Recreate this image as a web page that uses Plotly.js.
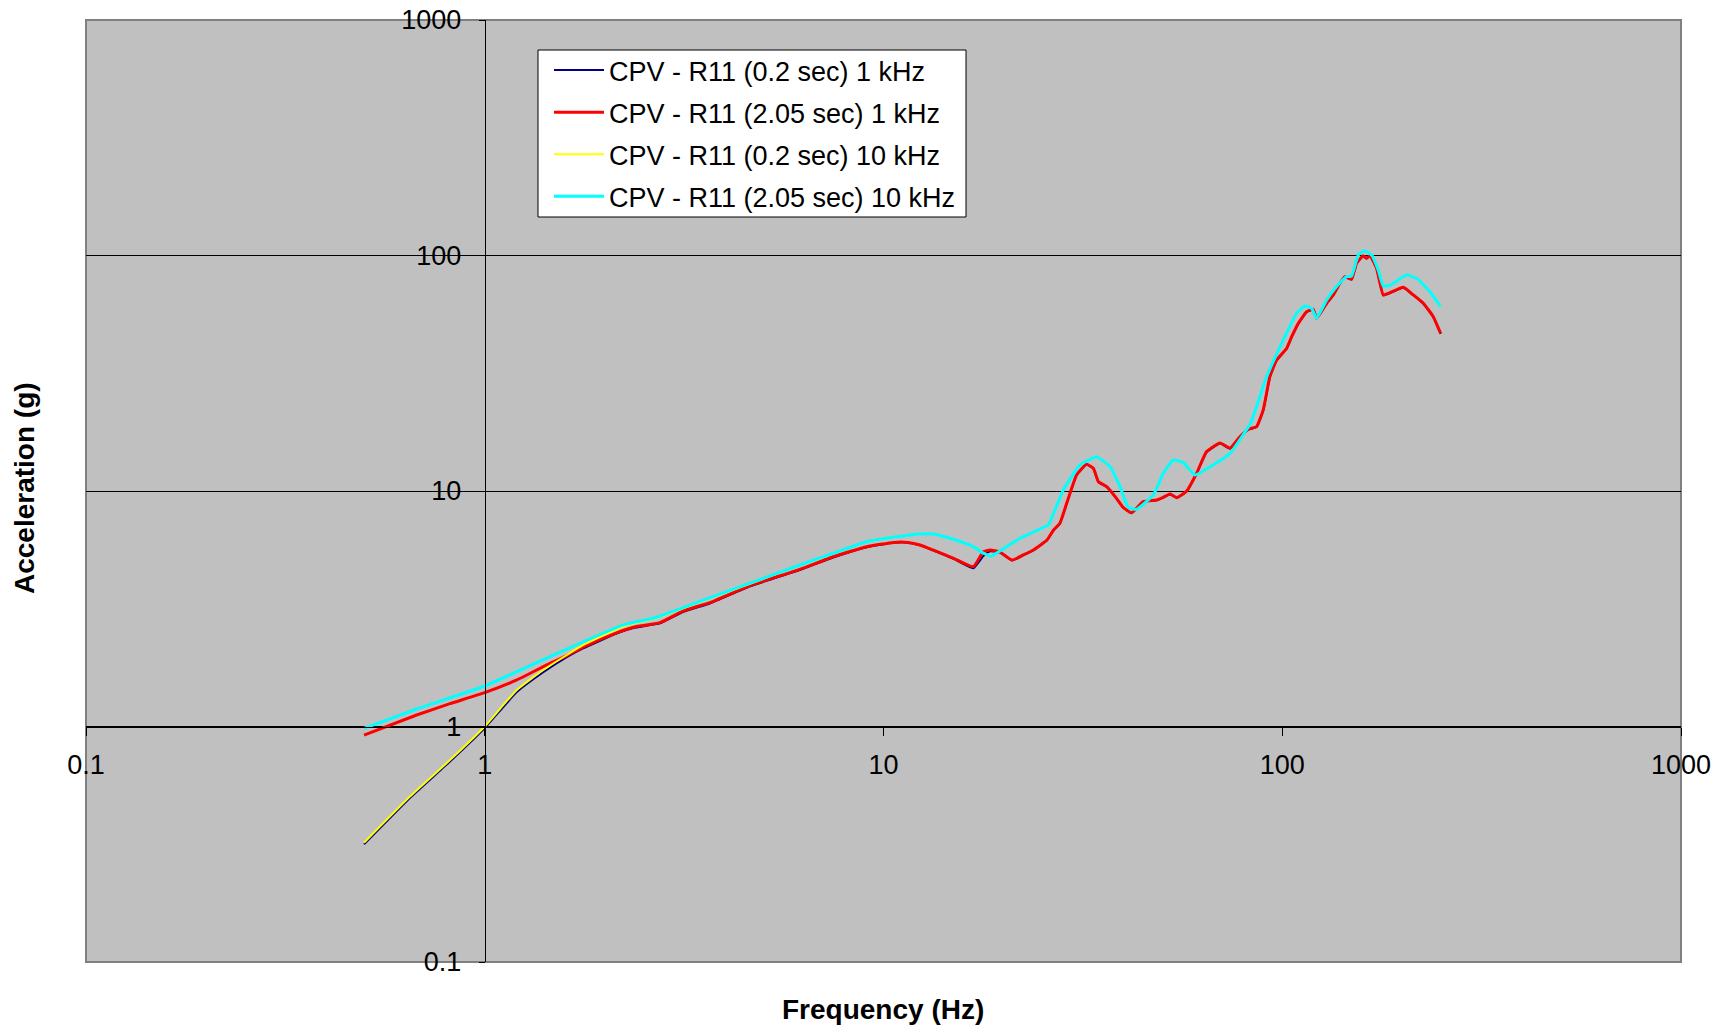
<!DOCTYPE html>
<html>
<head>
<meta charset="utf-8">
<script src="https://cdn.plot.ly/plotly-3.0.1.min.js"></script>
<style>
  html, body { margin: 0; padding: 0; background: #ffffff; }
  #chart { width: 1728px; height: 1029px; }
</style>
</head>
<body>
<div id="chart"></div>
<script>
// Shock response spectrum, CPV - R11, acceleration (g) vs frequency (Hz)

const seriesNames = [
  'CPV - R11 (0.2 sec) 1 kHz',
  'CPV - R11 (2.05 sec) 1 kHz',
  'CPV - R11 (0.2 sec) 10 kHz',
  'CPV - R11 (2.05 sec) 10 kHz'
];
const seriesColors = ['#000080', '#FF0000', '#FFFF00', '#00FFFF'];

// 0.2 sec window, 1 kHz sampling
const freqBlue = [0.498, 0.649, 0.818, 1.0, 1.203, 1.402, 1.606, 1.77, 2.14, 2.36, 2.75, 3.15, 3.67, 4.63, 6.17, 7.48, 9.08, 10.6, 11.5, 12.35, 13.3, 15.0, 16.8, 17.8, 18.5, 19.6, 21.0, 22.4, 23.75, 25.7, 26.7, 27.7, 28.8, 30.5, 32.3, 33.6, 34.6, 36.3, 38.4, 39.9, 41.9, 44.8, 48.4, 50.3, 52.3, 54.4, 57.6, 61.0, 64.6, 69.8, 74.0, 78.3, 82.2, 86.2, 89.6, 93.1, 96.8, 102.6, 105.6, 109.7, 115.1, 119.6, 121.9, 129.2, 134.3, 139.5, 143.6, 149.2, 153.6, 159.6, 162.7, 165.9, 172.4, 179.2, 186.3, 201.2, 213.2, 225.8, 239.2, 249.6];
const accBlue  = [0.316, 0.497, 0.71, 0.985, 1.40, 1.70, 1.97, 2.15, 2.48, 2.62, 2.74, 3.07, 3.33, 3.94, 4.62, 5.22, 5.77, 6.03, 6.04, 5.88, 5.6, 5.15, 4.7, 5.3, 5.55, 5.48, 5.07, 5.33, 5.6, 6.17, 6.8, 7.28, 8.85, 11.7, 12.95, 12.45, 10.9, 10.4, 9.28, 8.5, 8.05, 8.98, 9.14, 9.38, 9.68, 9.35, 9.98, 11.85, 14.6, 15.9, 15.15, 16.9, 18.2, 18.7, 22.0, 30.4, 35.8, 40.2, 45.0, 51.3, 57.5, 58.9, 54.0, 62.5, 67.8, 76.0, 81.0, 79.0, 92.3, 99.5, 97.0, 99.7, 88.0, 67.8, 69.3, 73.0, 67.8, 62.5, 54.8, 46.5];

// 2.05 sec window, 1 kHz sampling
const freqRed = [0.498, 0.675, 0.818, 1.0, 1.203, 1.457, 1.606, 1.77, 2.14, 2.36, 2.75, 3.15, 3.67, 4.63, 6.17, 7.48, 9.08, 10.6, 11.5, 12.35, 13.3, 15.0, 16.8, 17.8, 18.5, 19.6, 21.0, 22.4, 23.75, 25.7, 26.7, 27.7, 28.8, 30.5, 32.3, 33.6, 34.6, 36.3, 38.4, 39.9, 41.9, 44.8, 48.4, 50.3, 52.3, 54.4, 57.6, 61.0, 64.6, 69.8, 74.0, 78.3, 82.2, 86.2, 89.6, 93.1, 96.8, 102.6, 105.6, 109.7, 115.1, 119.6, 121.9, 129.2, 134.3, 139.5, 143.6, 149.2, 153.6, 159.6, 162.7, 165.9, 172.4, 179.2, 186.3, 201.2, 213.2, 225.8, 239.2, 249.6];
const accRed  = [0.920, 1.119, 1.25, 1.392, 1.576, 1.855, 2.0, 2.18, 2.50, 2.64, 2.76, 3.10, 3.36, 3.97, 4.65, 5.26, 5.80, 6.05, 6.05, 5.90, 5.62, 5.18, 4.77, 5.52, 5.62, 5.50, 5.09, 5.35, 5.62, 6.19, 6.83, 7.30, 8.87, 11.7, 12.98, 12.48, 10.95, 10.43, 9.31, 8.52, 8.09, 9.01, 9.16, 9.40, 9.71, 9.37, 10.0, 11.9, 14.7, 16.0, 15.2, 17.0, 18.3, 18.75, 22.1, 30.6, 36.0, 40.4, 45.2, 51.5, 57.7, 59.1, 54.1, 62.7, 68.0, 76.2, 81.3, 79.3, 92.6, 99.8, 97.3, 100, 88.2, 68.0, 69.5, 73.3, 68.0, 62.7, 55.0, 46.7];

// 0.2 sec window, 10 kHz sampling
const freqYellow = [0.498, 0.649, 0.818, 1.0, 1.203, 1.402, 1.606, 1.767, 2.226, 2.698, 3.45, 4.626, 6.17, 7.48, 9.08, 10.58, 12.35, 13.33, 14.96, 16.8, 17.8, 18.67, 20.36, 22.0, 25.17, 25.9, 28.25, 31.1, 34.2, 37.0, 39.2, 41.1, 43.1, 47.5, 50.3, 53.3, 56.5, 60.4, 67.1, 74.0, 78.3, 83.4, 91.4, 100.6, 108.6, 114.0, 118.5, 121.9, 129.2, 136.8, 145.0, 149.2, 155.1, 160.6, 167.6, 174.1, 179.2, 186.3, 205.1, 217.3, 234.6, 249.6];
const accYellow  = [0.321, 0.504, 0.72, 1.0, 1.43, 1.738, 2.012, 2.22, 2.66, 2.89, 3.37, 4.04, 4.83, 5.42, 6.07, 6.35, 6.56, 6.56, 6.23, 5.80, 5.46, 5.32, 5.80, 6.30, 7.01, 7.17, 10.1, 12.9, 13.98, 12.68, 10.43, 8.52, 8.36, 9.62, 11.9, 13.54, 13.2, 11.7, 12.9, 14.45, 16.5, 19.5, 30.6, 43.8, 56.8, 61.0, 59.7, 54.1, 64.7, 73.8, 81.3, 81.8, 100.5, 104.8, 100.5, 86.8, 74.2, 74.9, 82.6, 80.0, 70.2, 60.6];

// 2.05 sec window, 10 kHz sampling
const freqCyan = [0.498, 0.675, 1.0, 1.203, 1.457, 1.767, 2.226, 2.698, 3.45, 4.626, 6.17, 7.48, 9.08, 10.58, 12.35, 13.33, 14.96, 16.8, 17.8, 18.67, 20.36, 22.0, 25.17, 25.9, 28.25, 31.1, 34.2, 37.0, 39.2, 41.1, 43.1, 47.5, 50.3, 53.3, 56.5, 60.4, 67.1, 74.0, 78.3, 83.4, 91.4, 100.6, 108.6, 114.0, 118.5, 121.9, 129.2, 136.8, 145.0, 149.2, 155.1, 160.6, 167.6, 174.1, 179.2, 186.3, 205.1, 217.3, 234.6, 249.6];
const accCyan  = [0.982, 1.187, 1.486, 1.709, 1.98, 2.29, 2.70, 2.91, 3.39, 4.06, 4.85, 5.44, 6.09, 6.36, 6.57, 6.57, 6.24, 5.80, 5.44, 5.30, 5.80, 6.30, 7.01, 7.17, 10.1, 12.9, 13.98, 12.68, 10.43, 8.52, 8.36, 9.62, 11.9, 13.54, 13.2, 11.7, 12.9, 14.45, 16.5, 19.5, 30.6, 43.8, 56.8, 61.0, 59.7, 54.1, 64.7, 73.8, 81.3, 81.8, 100.5, 104.8, 100.5, 86.8, 74.2, 74.9, 82.6, 80.0, 70.2, 60.6];

const logTicks = [0.1, 1, 10, 100, 1000];
const logTickText = ['0.1', '1', '10', '100', '1000'];

const FONT = 'Liberation Sans, Arial, Helvetica, sans-serif';

// plot area in pixels (used to express paper positions)
const PL = 86, PR = 1681, PT = 20, PB = 962;
const px = v => (v - PL) / (PR - PL);
const py = v => (PB - v) / (PB - PT);

const xs = [freqBlue, freqRed, freqYellow, freqCyan];
const ys = [accBlue, accRed, accYellow, accCyan];
const widths = [2, 3, 2, 3];

const traces = seriesNames.map((name, i) => ({
  type: 'scatter',
  mode: 'lines',
  name: name,
  x: xs[i],
  y: ys[i],
  legendgroup: 'g' + i,
  line: { color: seriesColors[i], width: widths[i], shape: 'spline', smoothing: 0.4 },
  hoverinfo: 'x+y+name'
}));

const layout = {
  width: 1728,
  height: 1029,
  margin: { l: PL, r: 1728 - PR, t: PT, b: 1029 - PB, pad: 0 },
  paper_bgcolor: '#ffffff',
  plot_bgcolor: '#C0C0C0',
  font: { family: FONT, size: 27, color: '#000000' },
  showlegend: true,
  legend: {
    x: px(549), y: py(46), xanchor: 'left', yanchor: 'top',
    bgcolor: 'rgba(0,0,0,0)', borderwidth: 0,
    font: { family: FONT, size: 27, color: '#000000' },
    traceorder: 'grouped', tracegroupgap: 4,
    itemwidth: 50
  },
  xaxis: {
    type: 'log',
    range: [-1, 3],
    anchor: 'free',
    position: 0.25,
    showgrid: false,
    showline: true,
    linecolor: '#000000',
    linewidth: 1,
    ticks: 'outside',
    ticklen: 8,
    tickcolor: '#000000',
    tickvals: logTicks,
    ticktext: logTickText,
    tickfont: { family: FONT, size: 27, color: '#000000' },
    ticklabelstandoff: 6,
    zeroline: false,
    fixedrange: true
  },
  yaxis: {
    type: 'log',
    range: [-1, 3],
    anchor: 'free',
    position: 0.25,
    showgrid: true,
    gridcolor: '#000000',
    gridwidth: 1,
    showline: true,
    linecolor: '#000000',
    linewidth: 1,
    ticks: 'outside',
    ticklen: 6,
    tickcolor: '#000000',
    tickvals: logTicks,
    ticktext: logTickText,
    tickfont: { family: FONT, size: 27, color: '#000000' },
    ticklabelstandoff: 12,
    zeroline: false,
    fixedrange: true
  },
  shapes: [
    {
      // plot area frame
      type: 'rect', xref: 'paper', yref: 'paper',
      x0: 0, x1: 1, y0: 0, y1: 1,
      line: { color: '#808080', width: 2 },
      fillcolor: 'rgba(0,0,0,0)',
      layer: 'between'
    },
    {
      // legend box
      type: 'rect', xref: 'paper', yref: 'paper',
      x0: px(538), x1: px(966), y0: py(217), y1: py(50),
      line: { color: '#000000', width: 1 },
      fillcolor: '#ffffff',
      layer: 'above'
    }
  ],
  annotations: [
    {
      text: '<b>Frequency (Hz)</b>',
      xref: 'paper', yref: 'paper',
      x: px(883), y: py(1009),
      xanchor: 'center', yanchor: 'middle',
      showarrow: false,
      font: { family: FONT, size: 28, color: '#000000' }
    },
    {
      text: '<b>Acceleration (g)</b>',
      xref: 'paper', yref: 'paper',
      x: px(24), y: py(488),
      xanchor: 'center', yanchor: 'middle',
      textangle: -90,
      showarrow: false,
      font: { family: FONT, size: 28, color: '#000000' }
    }
  ]
};

Plotly.newPlot('chart', traces, layout, { displayModeBar: false, staticPlot: true });
</script>
</body>
</html>
